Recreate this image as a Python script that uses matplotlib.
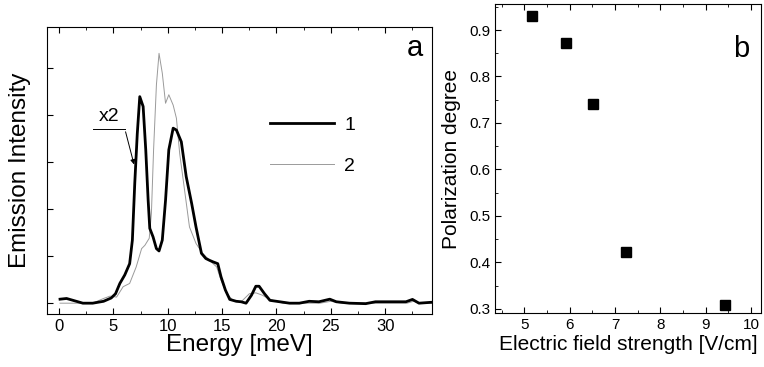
import matplotlib
matplotlib.use("Agg")
import matplotlib.pyplot as plt
from matplotlib.ticker import MultipleLocator, NullFormatter

plt.rcParams["font.family"] = ["Liberation Sans", "DejaVu Sans"]

## Panel a: emission spectra (arbitrary units, baseline 0)
e1 = [0.1, 0.7, 1.3, 2.2, 3.1, 4.1, 4.8, 5.2, 5.6, 6.05, 6.5, 6.75, 6.97, 7.2,
      7.43, 7.74, 7.98, 8.2, 8.35, 8.65, 8.96, 9.2, 9.5, 9.8, 10.1, 10.5, 10.8,
      11.25, 11.7, 12.2, 12.6, 13.1, 13.5, 13.85, 14.15, 14.6, 14.9, 15.3, 15.7,
      16.3, 16.75, 17.2, 17.7, 18.1, 18.4, 18.9, 19.4, 20.3, 21.2, 22.1, 23.0,
      23.9, 24.9, 25.5, 26.7, 28.2, 29.1, 30.7, 31.9, 32.5, 33.1, 34.3]
i1 = [0.085, 0.1, 0.06, 0.0, 0.0, 0.04, 0.11, 0.2, 0.42, 0.6, 0.84, 1.34, 2.55,
      3.6, 4.39, 4.18, 3.26, 2.19, 1.59, 1.41, 1.16, 1.11, 1.34, 2.19, 3.26,
      3.72, 3.68, 3.43, 2.69, 2.12, 1.62, 1.06, 0.95, 0.91, 0.88, 0.84, 0.56,
      0.28, 0.08, 0.04, 0.03, 0.0, 0.17, 0.36, 0.36, 0.2, 0.06, 0.03, 0.0, 0.0,
      0.04, 0.03, 0.085, 0.03, 0.0, -0.01, 0.03, 0.03, 0.03, 0.08, 0.0, 0.02]

e2 = [0.1, 3.1, 4.1, 4.7, 5.3, 5.9, 6.5, 7.1, 7.6, 7.9, 8.3, 8.5, 8.7, 8.96,
      9.2, 9.5, 9.8, 10.1, 10.5, 10.8, 11.1, 11.55, 12.0, 12.6, 13.2, 13.85,
      14.5, 14.9, 15.4, 16.0, 16.75, 17.5, 18.1, 18.7, 19.4, 20.6, 24.0, 25.0,
      26.0, 32.0, 32.6, 33.2, 34.3]
i2 = [0.0, 0.0, 0.1, 0.15, 0.13, 0.35, 0.42, 0.77, 1.16, 1.23, 1.38, 1.91,
      3.26, 4.64, 5.31, 4.89, 4.25, 4.43, 4.21, 3.93, 3.18, 2.4, 1.62, 1.27,
      1.06, 0.91, 0.77, 0.49, 0.21, 0.06, 0.03, 0.2, 0.22, 0.17, 0.08, 0.0,
      0.0, 0.04, 0.0, 0.0, 0.04, 0.0, 0.0]

## Panel b: polarization degree vs field
field = [5.17, 5.91, 6.51, 7.245, 9.42]
polar = [0.931, 0.871, 0.74, 0.422, 0.309]

fig = plt.figure(figsize=(7.64, 3.67), dpi=100)

# Left panel
ax1 = fig.add_axes([0.0615, 0.1444, 0.504, 0.782])
ax1.plot(e2, i2, color="#9a9a9a", lw=0.7, label="2")
ax1.plot(e1, i1, color="black", lw=2.0, label="1")
ax1.set_xlim(-1.1, 34.3)
ax1.set_ylim(-0.23, 5.87)
ax1.xaxis.set_major_locator(MultipleLocator(5))
ax1.xaxis.set_minor_locator(MultipleLocator(2.5))
ax1.yaxis.set_major_locator(MultipleLocator(1))
ax1.yaxis.set_major_formatter(NullFormatter())
ax1.tick_params(which="both", direction="in", top=True, labelsize=12)
ax1.tick_params(which="major", length=4)
ax1.tick_params(which="minor", length=2.5)
ax1.set_xlabel("Energy [meV]", fontsize=17.5, labelpad=0)
ax1.set_ylabel("Emission Intensity", fontsize=17.5, labelpad=8)
ax1.text(0.955, 0.9, "a", transform=ax1.transAxes, fontsize=21, ha="center")

handles, labels = ax1.get_legend_handles_labels()
ax1.legend(handles[::-1], labels[::-1], loc="upper left",
           bbox_to_anchor=(0.535, 0.75), frameon=False, fontsize=14,
           handlelength=3.25, handletextpad=0.55, labelspacing=1.2)

# x2 annotation
ax1.annotate("", xy=(6.97, 2.89), xytext=(6.06, 3.70),
             arrowprops=dict(arrowstyle="-|>", color="black", lw=0.7,
                             mutation_scale=7))
ax1.plot([3.12, 6.06], [3.70, 3.70], color="black", lw=0.7)
ax1.text(4.6, 3.78, "x2", fontsize=14, ha="center", va="bottom")

# Right panel
ax2 = fig.add_axes([0.6479, 0.1471, 0.3482, 0.842])
ax2.plot(field, polar, "s", color="black", markersize=7.5)
ax2.set_xlim(4.35, 10.22)
ax2.set_ylim(0.291, 0.956)
ax2.xaxis.set_major_locator(MultipleLocator(1))
ax2.xaxis.set_minor_locator(MultipleLocator(0.5))
ax2.yaxis.set_major_locator(MultipleLocator(0.1))
ax2.yaxis.set_minor_locator(MultipleLocator(0.05))
ax2.tick_params(which="both", direction="in", top=True, labelsize=11)
ax2.tick_params(which="major", length=4)
ax2.tick_params(which="minor", length=2.5)
ax2.set_xlabel("Electric field strength [V/cm]", fontsize=15, labelpad=2)
ax2.set_ylabel("Polarization degree", fontsize=15, labelpad=6)
ax2.text(0.925, 0.83, "b", transform=ax2.transAxes, fontsize=21, ha="center")

fig.savefig("out.png", dpi=100)
